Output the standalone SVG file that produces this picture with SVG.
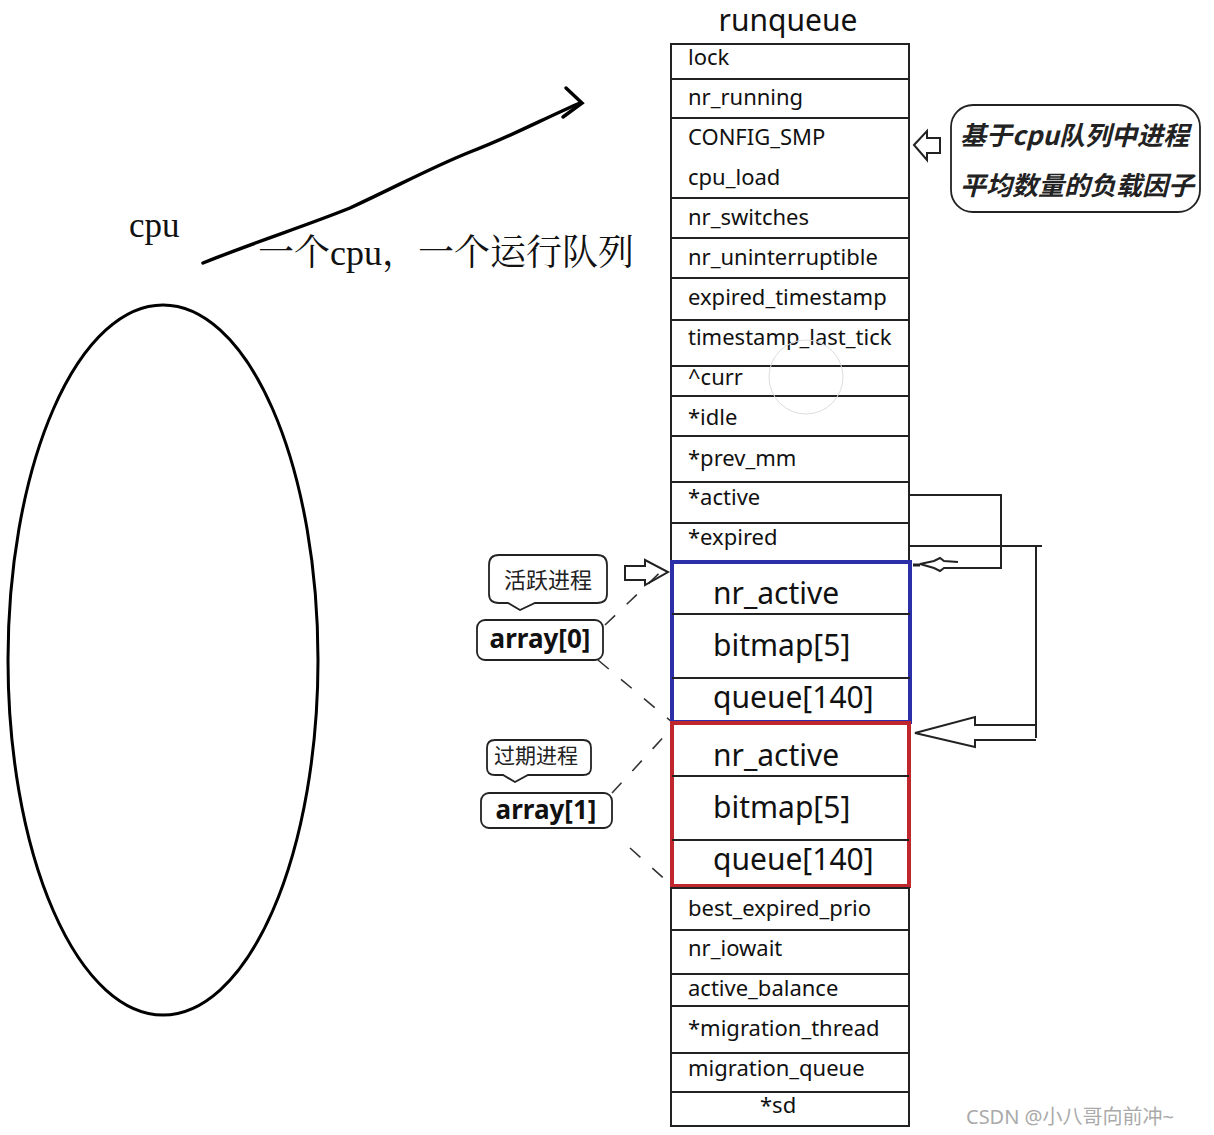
<svg xmlns="http://www.w3.org/2000/svg" width="1214" height="1135" viewBox="0 0 1214 1135">
<style>
.f{font-family:"Noto Sans","Open Sans","Liberation Sans",sans-serif;font-size:22px;fill:#111}
.title{font-family:"Noto Sans","Open Sans","Liberation Sans",sans-serif;font-size:30px;fill:#111}
.big{font-family:"Noto Sans","Open Sans","Liberation Sans",sans-serif;font-size:30px;fill:#111}
.ln{stroke:#222;stroke-width:2;fill:none}
.cell{fill:#fff;stroke:#222;stroke-width:2}
.dash{stroke:#333;stroke-width:1.6;fill:none;stroke-dasharray:14 16}
.serif{font-family:"Liberation Serif","Noto Serif CJK SC","Noto Sans CJK SC",serif;fill:#111}
.bub{fill:#fff;stroke:#222;stroke-width:1.8}
.cjk{font-family:"Noto Sans CJK SC",sans-serif;fill:#222}
.lbl{font-family:"Noto Sans","Open Sans",sans-serif;font-size:26px;font-weight:bold;fill:#111}
</style>
<rect width="1214" height="1135" fill="#fff"/>

<g id="cpu">
<ellipse cx="163" cy="660" rx="155" ry="355" fill="none" stroke="#000" stroke-width="3"/>
<text x="129" y="237" class="serif" font-size="35">cpu</text>
</g>

<g id="connectors">
<path d="M203,263 C260,240 300,228 350,208 C400,185 430,168 470,152 C510,137 545,118 580,103" stroke="#000" stroke-width="3.5" fill="none" stroke-linecap="round"/>
<path d="M566,88 L582,103 L563,117" stroke="#000" stroke-width="3.5" fill="none" stroke-linecap="round"/>
<path class="dash" d="M605,625 L670,563"/>
<path class="dash" d="M598,660 L672,722"/>
<path class="dash" d="M612,793 L670,730"/>
<path class="dash" d="M630,848 L670,884"/>
<path class="ln" d="M909,495 H1001 V568 H958"/>
<path class="ln" d="M958,562 L944,561 L940,558 L934,561 L920,564 L934,568 L940,571 L944,568 L958,568"/>
<path d="M913,565 L920,565" stroke="#222" stroke-width="3"/>
<path class="ln" d="M909,546 H1042"/>
<path class="ln" d="M1036,546 V738"/>
<path class="ln" d="M1036,725 H975 V717 L915,733 L975,747 V740 H1036"/>
<path class="ln" d="M914,145 L927,131 L927,138 L940,138 L940,153 L927,153 L927,160 Z"/>
<path class="ln" d="M625,566 H645 V560 L668,572 L645,585 V580 H625 Z"/>
</g>

<g id="runqueue">
<text x="788" y="31" class="title" text-anchor="middle">runqueue</text>
<rect class="cell" x="671" y="44" width="238" height="35"/><text class="f" x="688" y="65">lock</text>
<rect class="cell" x="671" y="79" width="238" height="39"/><text class="f" x="688" y="105">nr_running</text>
<rect class="cell" x="671" y="118" width="238" height="80"/><text class="f" x="688" y="145">CONFIG_SMP</text><text class="f" x="688" y="185">cpu_load</text>
<rect class="cell" x="671" y="198" width="238" height="40"/><text class="f" x="688" y="225">nr_switches</text>
<rect class="cell" x="671" y="238" width="238" height="40"/><text class="f" x="688" y="265">nr_uninterruptible</text>
<rect class="cell" x="671" y="278" width="238" height="42"/><text class="f" x="688" y="305">expired_timestamp</text>
<rect class="cell" x="671" y="320" width="238" height="46"/><text class="f" x="688" y="345">timestamp_last_tick</text>
<rect class="cell" x="671" y="366" width="238" height="30"/><text class="f" x="688" y="385">^curr</text>
<rect class="cell" x="671" y="396" width="238" height="40"/><text class="f" x="688" y="425">*idle</text>
<rect class="cell" x="671" y="436" width="238" height="46"/><text class="f" x="688" y="466">*prev_mm</text>
<rect class="cell" x="671" y="482" width="238" height="41"/><text class="f" x="688" y="505">*active</text>
<rect class="cell" x="671" y="523" width="238" height="38"/><text class="f" x="688" y="545">*expired</text>
<circle cx="806" cy="377" r="37" fill="none" stroke="#ddd" stroke-width="1"/>
</g>

<g id="array0">
<rect x="672" y="562" width="238" height="160" fill="#fff" stroke="#2b2fa8" stroke-width="4"/>
<path d="M672,614 H910 M672,678 H910" stroke="#222" stroke-width="2"/>
<text class="big" x="713" y="604">nr_active</text>
<text class="big" x="713" y="656">bitmap[5]</text>
<text class="big" x="713" y="708">queue[140]</text>
</g>

<g id="array1">
<rect x="672" y="723" width="237" height="163" fill="#fff" stroke="#c0272d" stroke-width="4"/>
<path d="M672,776 H909 M672,840 H909" stroke="#222" stroke-width="2"/>
<text class="big" x="713" y="766">nr_active</text>
<text class="big" x="713" y="818">bitmap[5]</text>
<text class="big" x="713" y="870">queue[140]</text>
</g>

<g id="runqueue-tail">
<rect class="cell" x="671" y="888" width="238" height="42"/><text class="f" x="688" y="916">best_expired_prio</text>
<rect class="cell" x="671" y="930" width="238" height="44"/><text class="f" x="688" y="956">nr_iowait</text>
<rect class="cell" x="671" y="974" width="238" height="32"/><text class="f" x="688" y="996">active_balance</text>
<rect class="cell" x="671" y="1006" width="238" height="47"/><text class="f" x="688" y="1036">*migration_thread</text>
<rect class="cell" x="671" y="1053" width="238" height="39"/><text class="f" x="688" y="1076">migration_queue</text>
<rect class="cell" x="671" y="1092" width="238" height="34"/><text class="f" x="760" y="1113">*sd</text>
</g>

<g id="load-note">
<rect class="bub" x="951" y="105" width="249" height="107" rx="22"/>
<text class="cjk" x="960" y="145" font-size="26" font-weight="bold" font-style="italic">基于cpu队列中进程</text>
<text class="cjk" x="960" y="195" font-size="26" font-weight="bold" font-style="italic">平均数量的负载因子</text>
</g>

<g id="active-label">
<path class="bub" d="M499,555 H597 Q607,555 607,565 V594 Q607,603 597,603 H535 L520,610 L508,603 H499 Q489,603 489,594 V565 Q489,555 499,555 Z"/>
<text class="cjk" x="548" y="588" font-size="22" text-anchor="middle">活跃进程</text>
<rect class="bub" x="477" y="620" width="126" height="40" rx="8"/>
<text class="lbl" x="540" y="648" text-anchor="middle">array[0]</text>
</g>

<g id="expired-label">
<path class="bub" d="M495,740 H583 Q591,740 591,748 V768 Q591,775 583,775 H528 L515,782 L503,775 H495 Q487,775 487,768 V748 Q487,740 495,740 Z"/>
<text class="cjk" x="536" y="763" font-size="21" text-anchor="middle">过期进程</text>
<rect class="bub" x="481" y="793" width="131" height="35" rx="8"/>
<text class="lbl" x="546" y="819" text-anchor="middle">array[1]</text>
</g>

<g id="caption">
<text x="258" y="265" class="serif" font-size="36">一个cpu，一个运行队列</text>
</g>

<text x="966" y="1124" font-family="Noto Sans,Noto Sans CJK SC,sans-serif" font-size="20" fill="#aaa">CSDN @小八哥向前冲~</text>
</svg>
